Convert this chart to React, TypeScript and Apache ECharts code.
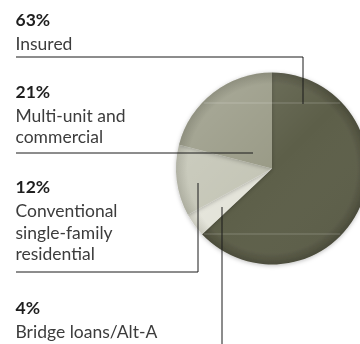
import React, { useEffect, useRef } from "react";
import * as echarts from "echarts";

// Data (clockwise from 12 o'clock)
const categories = ["Insured", "Bridge loans/Alt-A", "Conventional single-family residential", "Multi-unit and commercial"];
const values = [63, 4, 12, 21];
const labelTexts = ["Insured", "Bridge loans/Alt-A", "Conventional\nsingle-family\nresidential", "Multi-unit and\ncommercial"];

// Styles
const baseColors = ["#5d5e49", "#e4e4da", "#c5c6b7", "#9a9b87"];
const edgeColors = ["#4a4b39", "#c9c9bd", "#a9aa9b", "#80816e"];

// Layout of annotation blocks (baselines, px)
const blockLayout = [
  { pct: 25, first: 49, leader: [[16, 57], [303, 57], [303, 104]] },
  { pct: 313, first: 337, leader: [[222, 207], [222, 344]] },
  { pct: 192, first: 216, leader: [[16, 272], [198, 272], [198, 183]] },
  { pct: 97, first: 120.5, leader: [[16, 153], [253, 153]] },
];

const CX = 272;
const CY = 168.5;
const R = 96;
const LH = 21.5;
const FONT = "Lato, 'Open Sans', sans-serif";

export default function App() {
  const ref = useRef<HTMLDivElement>(null);
  useEffect(() => {
    if (!ref.current) return;
    const chart = echarts.init(ref.current, null, { renderer: "svg" });
    const graphics: any[] = [];
    blockLayout.forEach((b, i) => {
      graphics.push({
        type: "text",
        z: 20,
        style: {
          text: `${values[i]}%`,
          x: 15.5,
          y: b.pct - 5.5,
          fill: "#1e1e1e",
          fontFamily: FONT,
          fontSize: 17.5,
          fontWeight: "bold",
          verticalAlign: "middle",
          align: "left",
        },
      });
      graphics.push({
        type: "text",
        z: 20,
        style: {
          text: labelTexts[i],
          x: 15.5,
          y: b.first - 5.5 - LH / 2,
          fill: "#3c3c3c",
          fontFamily: FONT,
          fontSize: 17.5,
          lineHeight: LH,
          verticalAlign: "top",
          align: "left",
        },
      });
      graphics.push({
        type: "polyline",
        z: 30,
        shape: { points: b.leader },
        style: { stroke: "#1a1a1a", lineWidth: 1, fill: null },
      });
    });
    // subtle rim shading and reflection lines
    graphics.push({
      type: "circle",
      z: 15,
      silent: true,
      shape: { cx: CX, cy: CY, r: R },
      style: {
        fill: {
          type: "linear",
          x: CX - R,
          y: CY - R,
          x2: CX + R,
          y2: CY + R,
          global: true,
          colorStops: [
            { offset: 0, color: "rgba(255,255,255,0.18)" },
            { offset: 0.5, color: "rgba(255,255,255,0)" },
            { offset: 1, color: "rgba(0,0,0,0.08)" },
          ],
        },
      },
    });
    [-65.5, 65.5].forEach((dy) => {
      const hw = Math.sqrt(R * R - dy * dy) - 2;
      graphics.push({
        type: "line",
        z: 16,
        silent: true,
        shape: { x1: CX - hw, y1: CY + dy, x2: CX + hw, y2: CY + dy },
        style: { stroke: "rgba(255,255,255,0.22)", lineWidth: 1 },
      });
    });

    chart.setOption({
      animation: false,
      graphic: graphics,
      series: [
        {
          type: "pie",
          center: [CX, CY],
          radius: R,
          startAngle: 90,
          clockwise: true,
          silent: true,
          label: { show: false },
          labelLine: { show: false },
          itemStyle: { borderWidth: 0, shadowBlur: 4, shadowColor: "rgba(0,0,0,0.25)", shadowOffsetY: 1 },
          data: categories.map((name, i) => ({
            name,
            value: values[i],
            itemStyle: {
              color: {
                type: "radial",
                x: CX,
                y: CY,
                r: R,
                global: true,
                colorStops: [
                  { offset: 0, color: baseColors[i] },
                  { offset: 0.88, color: baseColors[i] },
                  { offset: 1, color: edgeColors[i] },
                ],
              },
            },
          })),
        },
      ],
    });
    return () => chart.dispose();
  }, []);
  return <div ref={ref} style={{ width: 360, height: 344, position: "fixed", left: 0, top: 0 }} />;
}
